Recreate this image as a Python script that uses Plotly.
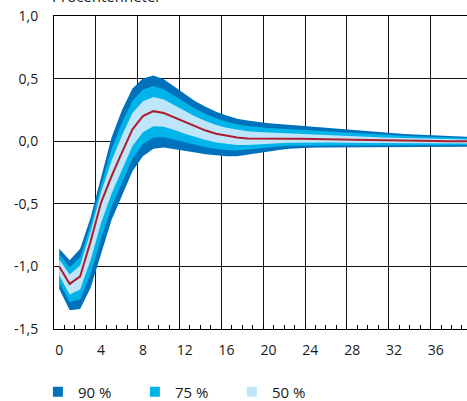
import plotly.graph_objects as go

# Horizon (quarters)
horizon = list(range(40))

median = [-1.00, -1.14, -1.08, -0.80, -0.49, -0.28, -0.09, 0.095, 0.20, 0.24,
          0.225, 0.19, 0.15, 0.115, 0.085, 0.06, 0.042, 0.03, 0.022, 0.02,
          0.02, 0.02, 0.02, 0.02, 0.02, 0.018, 0.016, 0.014, 0.012, 0.01,
          0.008, 0.006, 0.005, 0.004, 0.003, 0.002, 0.001, 0.0, 0.0, 0.0]

upper90 = [-0.86, -0.95, -0.86, -0.61, -0.29, 0.03, 0.25, 0.42, 0.50, 0.525,
           0.495, 0.435, 0.375, 0.32, 0.275, 0.235, 0.205, 0.18, 0.165, 0.152,
           0.143, 0.137, 0.13, 0.124, 0.118, 0.11, 0.102, 0.094, 0.086, 0.079,
           0.073, 0.067, 0.062, 0.057, 0.053, 0.049, 0.045, 0.042, 0.039, 0.036]
lower90 = [-1.18, -1.35, -1.34, -1.17, -0.90, -0.63, -0.43, -0.24, -0.12, -0.06,
           -0.05, -0.06, -0.075, -0.09, -0.105, -0.115, -0.12, -0.12, -0.11, -0.095,
           -0.082, -0.07, -0.06, -0.055, -0.052, -0.05, -0.05, -0.05, -0.049, -0.049,
           -0.048, -0.048, -0.047, -0.047, -0.046, -0.046, -0.045, -0.045, -0.044, -0.044]

upper75 = [-0.902, -1.007, -0.926, -0.667, -0.35, -0.063, 0.148, 0.323, 0.41, 0.44,
           0.414, 0.362, 0.308, 0.259, 0.218, 0.183, 0.156, 0.135, 0.122, 0.112,
           0.106, 0.102, 0.097, 0.093, 0.089, 0.082, 0.076, 0.07, 0.064, 0.058,
           0.054, 0.049, 0.045, 0.041, 0.038, 0.035, 0.032, 0.029, 0.027, 0.025]
lower75 = [-1.126, -1.287, -1.262, -1.059, -0.777, -0.525, -0.328, -0.14, -0.024, 0.03,
           0.032, 0.015, -0.008, -0.029, -0.048, -0.063, -0.071, -0.075, -0.07, -0.061,
           -0.051, -0.043, -0.036, -0.033, -0.03, -0.03, -0.03, -0.031, -0.031, -0.031,
           -0.031, -0.032, -0.031, -0.032, -0.031, -0.032, -0.031, -0.032, -0.031, -0.031]

upper50 = [-0.944, -1.064, -0.992, -0.724, -0.41, -0.156, 0.046, 0.225, 0.32, 0.354,
           0.333, 0.288, 0.24, 0.197, 0.161, 0.13, 0.107, 0.09, 0.079, 0.073,
           0.069, 0.067, 0.064, 0.062, 0.059, 0.055, 0.05, 0.046, 0.042, 0.038,
           0.034, 0.03, 0.028, 0.025, 0.023, 0.021, 0.019, 0.017, 0.016, 0.014]
lower50 = [-1.072, -1.224, -1.184, -0.948, -0.654, -0.42, -0.226, -0.039, 0.072, 0.12,
           0.115, 0.09, 0.06, 0.033, 0.009, -0.01, -0.023, -0.03, -0.031, -0.026,
           -0.021, -0.016, -0.012, -0.01, -0.009, -0.009, -0.01, -0.012, -0.012, -0.014,
           -0.014, -0.016, -0.016, -0.016, -0.017, -0.017, -0.017, -0.018, -0.018, -0.018]

band_names = ["90 %", "75 %", "50 %"]
band_colors = ["#0072BB", "#00B4EA", "#BEE5F9"]
median_color = "#AE1E2E"

x_ticks = [0, 4, 8, 12, 16, 20, 24, 28, 32, 36]
y_ticks = [-1.5, -1.0, -0.5, 0.0, 0.5, 1.0]
y_tick_text = ["-1,5", "-1,0", "-0,5", "0,0", "0,5", "1,0"]
y_title = "Procentenheter"

FONT = "Open Sans"
TXT = "#1a1a1a"

fig = go.Figure()

bands = [(upper90, lower90), (upper75, lower75), (upper50, lower50)]
for (up, lo), name, col in zip(bands, band_names, band_colors):
    fig.add_trace(go.Scatter(
        x=horizon + horizon[::-1], y=up + lo[::-1],
        fill="toself", fillcolor=col, mode="lines",
        line=dict(width=0, color=col), showlegend=False, hoverinfo="skip"))

fig.add_trace(go.Scatter(x=horizon, y=median, mode="lines",
                         line=dict(color=median_color, width=2),
                         showlegend=False))

for name, col in zip(band_names, band_colors):
    fig.add_trace(go.Scatter(x=[None], y=[None], mode="markers", name=name,
                             marker=dict(symbol="square", size=10, color=col)))

# dummy trace for the grid axis
fig.add_trace(go.Scatter(x=[None], y=[None], xaxis="x2", showlegend=False,
                         mode="markers", hoverinfo="skip"))

xr = [-0.5, 38.98]
fig.update_layout(
    width=467, height=401,
    margin=dict(l=54, r=0, t=16, b=72, autoexpand=False),
    paper_bgcolor="white", plot_bgcolor="white",
    font=dict(family=FONT, size=14, color=TXT),
    showlegend=True,
    legend=dict(orientation="h", x=-0.039, xanchor="left", y=-0.201, yanchor="middle",
                font=dict(size=15, family=FONT, color=TXT),
                entrywidth=52, entrywidthmode="pixels",
                bgcolor="rgba(0,0,0,0)", itemclick=False),
    xaxis=dict(range=xr, tickmode="array", tickvals=x_ticks,
               ticktext=[str(v) for v in x_ticks], automargin=False,
               showgrid=False, zeroline=False, ticks="",
               showline=True, linecolor="black", linewidth=1, mirror=True,
               ticklabelstandoff=8,
               tickfont=dict(size=14, family=FONT, color=TXT)),
    xaxis2=dict(range=xr, overlaying="x", anchor="y", side="bottom",
                tick0=-0.5, dtick=4, showticklabels=False, automargin=False,
                showgrid=True, gridcolor="#111111", gridwidth=1,
                zeroline=False, ticks="inside", ticklen=4, tickcolor="black",
                minor=dict(tick0=-0.5, dtick=1, ticks="inside", ticklen=4,
                           tickcolor="black", showgrid=False)),
    yaxis=dict(range=[-1.5, 1.0], tickmode="array", tickvals=y_ticks,
               ticktext=y_tick_text, showgrid=True, gridcolor="#111111",
               gridwidth=1, zeroline=False, ticks="", automargin=False,
               showline=True, linecolor="black", linewidth=1,
               ticklabelstandoff=12,
               tickfont=dict(size=14, family=FONT, color=TXT)),
    annotations=[dict(text=y_title, xref="paper", yref="paper", x=0, y=1,
                      xanchor="left", yanchor="bottom", xshift=-4, yshift=8,
                      showarrow=False, font=dict(size=15, family=FONT, color=TXT))],
)

fig.write_html("out.html", config={"displayModeBar": False},
               post_script="document.body.style.margin='0';document.body.style.padding='0';")
